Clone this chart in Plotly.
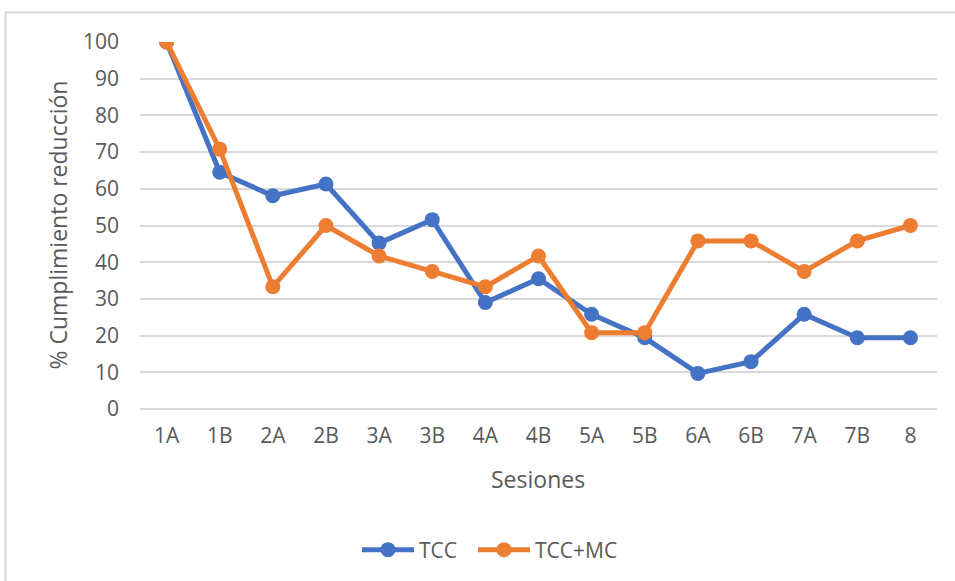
import plotly.graph_objects as go

sesiones = ["1A", "1B", "2A", "2B", "3A", "3B", "4A", "4B", "5A", "5B", "6A", "6B", "7A", "7B", "8"]
tcc = [100, 64.5, 58.1, 61.3, 45.2, 51.6, 29.0, 35.5, 25.8, 19.4, 9.7, 12.9, 25.8, 19.4, 19.4]
tcc_mc = [100, 70.8, 33.3, 50.0, 41.7, 37.5, 33.3, 41.7, 20.8, 20.8, 45.8, 45.8, 37.5, 45.8, 50.0]
y_ticks = [0, 10, 20, 30, 40, 50, 60, 70, 80, 90, 100]

font_family = "Open Sans, Liberation Sans, sans-serif"
txt = "#595959"

fig = go.Figure()
fig.add_trace(go.Scatter(x=sesiones, y=tcc, name="TCC", mode="lines+markers",
                         line=dict(color="#4472C4", width=5),
                         marker=dict(color="#4472C4", size=15), legend="legend"))
fig.add_trace(go.Scatter(x=sesiones, y=tcc_mc, name="TCC+MC", mode="lines+markers",
                         line=dict(color="#ED7D31", width=5),
                         marker=dict(color="#ED7D31", size=15), legend="legend2"))

L, R, T, B = 140, 18, 42, 171
W, H = 955, 581
pw, ph = W - L - R, H - T - B

def px_x(x):
    return (x - L) / pw

def px_y(y):
    return (H - B - y) / ph

leg_common = dict(orientation="h", xanchor="left", y=px_y(550), yanchor="middle",
                  font=dict(size=21, color=txt), itemwidth=52, bgcolor="rgba(0,0,0,0)")

fig.update_layout(
    width=W, height=H,
    margin=dict(l=L, r=R, t=T, b=B),
    paper_bgcolor="white", plot_bgcolor="white",
    font=dict(family=font_family, size=21, color=txt),
    showlegend=True,
    legend=dict(x=px_x(357), **leg_common),
    legend2=dict(x=px_x(473), **leg_common),
    xaxis=dict(showgrid=False, showline=False, zeroline=False, ticks="",
               tickfont=dict(size=21, color=txt), range=[-0.5, 14.5], ticklabelstandoff=12),
    yaxis=dict(range=[0, 100], tickvals=y_ticks, showgrid=True, gridcolor="#D9D9D9", gridwidth=1.5,
               zeroline=True, zerolinecolor="#D9D9D9", zerolinewidth=1.5,
               tickfont=dict(size=21, color=txt), ticks="", ticklabelstandoff=20),
)
fig.add_annotation(text="Sesiones", xref="paper", yref="paper", x=px_x(538), y=px_y(480),
                   showarrow=False, xanchor="center", yanchor="middle", font=dict(size=23, color=txt))
fig.add_annotation(text="% Cumplimiento reducción", xref="paper", yref="paper", x=px_x(57), y=px_y(226),
                   showarrow=False, xanchor="center", yanchor="middle", textangle=-90,
                   font=dict(size=23, color=txt))
fig.add_shape(type="rect", xref="paper", yref="paper", x0=px_x(5.5), x1=px_x(965), y0=px_y(600), y1=px_y(12.5),
              line=dict(color="#D9D9D9", width=2))
fig.write_html("out.html", config={"displayModeBar": False},
               post_script="document.body.style.margin='0';")
